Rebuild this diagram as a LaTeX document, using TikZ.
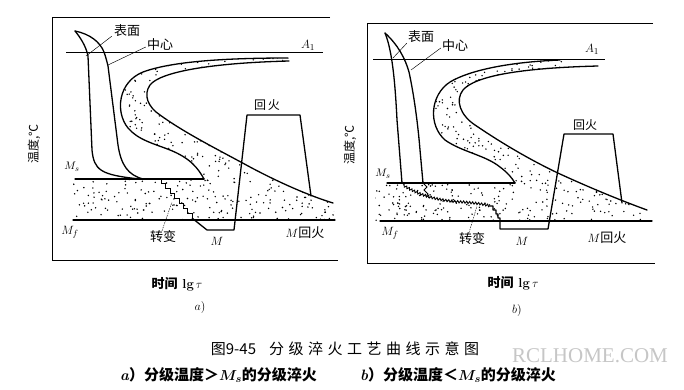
\documentclass[tikz,border=0pt]{standalone}
\usepackage{fontspec}
\newfontfamily\cjk{Noto Sans CJK SC}
\newfontfamily\wmfont{Liberation Serif}
\usetikzlibrary{decorations.pathmorphing}
\newcommand\myfs[1]{\fontsize{#1}{#1}\selectfont}
\begin{document}
\begin{tikzpicture}[x=1pt,y=-1pt,
  curve/.style={line width=1.3pt,line join=round,line cap=round},
  framel/.style={line width=1pt},
  thinl/.style={line width=0.5pt},
  leader/.style={line width=0.45pt},
  dleader/.style={line width=0.45pt,dash pattern=on 1.5pt off 1pt},
  lbl/.style={inner sep=0pt,font=\cjk\myfs{13}},
  mlbl/.style={inner sep=0pt,font=\myfs{13}},
  zig/.style={line width=0.9pt,decorate,decoration={zigzag,segment length=3pt,amplitude=1.1pt}}]
\useasboundingbox (0,0) rectangle (684,389);
\fill[white] (0,0) rectangle (684,389);

% ================= panel a =================
% stipple
\begin{scope}
\clip (288,58) .. controls (220,58) and (170,62) .. (143,72) .. controls (118,82) and (115,112) .. (128,128) .. controls (138,140) and (155,144) .. (170,150) .. controls (190,158) and (198,168) .. (204,179) -- (73,179) -- (73,220) -- (335,220) -- (333,203) .. controls (310,196) and (280,183) .. (250,167) .. controls (215,148) and (185,133) .. (160,115) .. controls (148,107) and (143,95) .. (150,85) .. controls (160,72) and (210,63) .. (289,61) -- cycle;
\pgfmathsetseed{11}
\foreach \i in {1,...,1000}{\fill ({65+275*rnd},{55+168*rnd}) circle (0.8pt);}
\end{scope}
% frame
\draw[framel] (330,17) -- (52,17) -- (52,260) -- (338,260);
% A1
\draw[thinl] (66,52) -- (323,52);
\node[mlbl] (A1a) at (308,45) {$A_1$};
% surface and centre
\draw[curve] (75,31) .. controls (80,37) and (86,46) .. (88,56) -- (92,150) .. controls (94,170) and (100,175) .. (140,179);
\draw[curve] (75,31) .. controls (90,34) and (100,42) .. (104,52) .. controls (106,58) .. (108,66) -- (118,145) .. controls (121,165) and (128,175) .. (143,179);
% C curves
\draw[curve] (288,58) .. controls (220,58) and (170,62) .. (143,72) .. controls (118,82) and (115,112) .. (128,128) .. controls (138,140) and (155,144) .. (170,150) .. controls (190,158) and (198,168) .. (204,179);
\draw[curve] (289,61) .. controls (210,63) and (160,72) .. (150,85) .. controls (143,95) and (148,107) .. (160,115) .. controls (185,133) and (215,148) .. (250,167) .. controls (280,183) and (310,196) .. (333,203);
% Ms, Mf
\draw[curve] (75,179) -- (204,179);
\draw[curve] (73,220) -- (335,220);
% staircase + M + tempering
\draw[line width=1pt,line join=miter] (157,179) \foreach \k in {1,...,8} { -- ++(4.4,0) -- ++(0,4.9) };
\draw[curve] (192.2,218.2) -- (207,230) -- (234,230) -- (247,115) -- (300,115) -- (311,196);
% labels
\node[lbl] (surfA) at (127,31) {表面};
\node[lbl] (cenA) at (160,45) {中心};
\coordinate (surfAp) at (86,56);
\coordinate (cenAp) at (108,65);
\draw[leader] (surfA.south west) ++(-2,-1) coordinate (surfAs) (surfAs) -- (surfAp);
\draw[leader] (cenA.west) ++(-1,2) coordinate (cenAs) (cenAs) -- (cenAp);
\node[lbl,font=\cjk\myfs{12}] (tempA) at (267,105) {回\,火};
\node[mlbl,font=\myfs{11}] (MsA) at (72,167) {$M_s$};
\node[mlbl] (MfA) at (70,232) {$M_f$};
\node[lbl] (trA) at (163,237) {转变};
\coordinate (trAp) at (172,202);
\draw[dleader] (trA.north) ++(-1,0) coordinate (trAs) (trAs) -- (trAp);
\node[mlbl] (MA) at (217,241) {$M$};
\node[lbl] (MtA) at (305,233) {$M$回火};
\node[lbl,rotate=90,font=\cjk\myfs{12}] (yA) at (34,144) {温度,℃};
\node[inner sep=0pt,font=\myfs{13}\bfseries] (xA) at (177,284) {{\cjk 时间} lg\,$\tau$};
\node[inner sep=0pt,font=\myfs{12}] (capA) at (200,307) {$a$)};

% ================= panel b =================
\begin{scope}
\clip (560,60) .. controls (510,62) and (470,70) .. (450,82) .. controls (430,95) and (428,125) .. (445,140) .. controls (462,152) and (485,155) .. (500,167) .. controls (508,173) and (512,178) .. (515,183) -- (375,183) -- (375,221) -- (652,221) -- (647,210) .. controls (625,202) and (595,190) .. (560,174) .. controls (530,160) and (500,142) .. (475,125) .. controls (460,115) and (455,100) .. (463,90) .. controls (475,76) and (520,68) .. (598,66) -- cycle;
\pgfmathsetseed{23}
\foreach \i in {1,...,1000}{\fill ({372+282*rnd},{57+166*rnd}) circle (0.8pt);}
\end{scope}
\draw[framel] (653,23) -- (367,23) -- (367,263) -- (655,263);
\draw[thinl] (373,59) -- (605,59);
\node[mlbl] (A1b) at (592,49) {$A_1$};
\draw[curve] (385,33) .. controls (392,50) and (395,80) .. (397,120) -- (402,183);
\draw[curve] (385,33) .. controls (398,45) and (405,58) .. (409,72) .. controls (414,95) and (418,125) .. (420,150) -- (423,183);
\draw[curve] (560,60) .. controls (510,62) and (470,70) .. (450,82) .. controls (430,95) and (428,125) .. (445,140) .. controls (462,152) and (485,155) .. (500,167) .. controls (508,173) and (512,178) .. (515,183);
\draw[curve] (598,66) .. controls (520,68) and (475,76) .. (463,90) .. controls (455,100) and (460,115) .. (475,125) .. controls (500,142) and (530,160) .. (560,174) .. controls (595,190) and (625,202) .. (647,210);
\draw[curve] (387,183) -- (515,183);
\draw[curve] (380,221) -- (652,221);
% zigzag transformation
\draw[zig] (403,185) .. controls (420,196) and (440,201) .. (463,202) .. controls (475,203) and (484,204) .. (490,206);
\draw[line width=0.9pt] (423,183) -- (427,187) -- (424,190) -- (428,194) -- (426,197);
\draw[curve] (490,206) -- (493,206) -- (493,210) -- (496,210) -- (496,214) -- (498,214) -- (498,218) -- (500,218) -- (500,229) -- (548,229) -- (564,134) -- (613,134) -- (622,203);
% labels
\node[lbl] (surfB) at (421,37) {表面};
\node[lbl] (cenB) at (455,46) {中心};
\coordinate (surfBp) at (393,58);
\coordinate (cenBp) at (411,70);
\draw[leader] (surfB.south west) ++(-1,0) coordinate (surfBs) (surfBs) -- (surfBp);
\draw[leader] (cenB.west) ++(-1,2) coordinate (cenBs) (cenBs) -- (cenBp);
\node[lbl,font=\cjk\myfs{12}] (tempB) at (585,125) {回火};
\node[mlbl,font=\myfs{11}] (MsB) at (383,174) {$M_s$};
\node[mlbl] (MfB) at (390,233) {$M_f$};
\node[lbl] (trB) at (472,239) {转变};
\coordinate (trBp) at (477,206);
\draw[dleader] (trB.north) ++(-3,0) coordinate (trBs) (trBs) -- (trBp);
\node[mlbl] (MB) at (522,241) {$M$};
\node[lbl] (MtB) at (607,238) {$M$回火};
\node[lbl,rotate=90,font=\cjk\myfs{12}] (yB) at (350,145) {温度,℃};
\node[inner sep=0pt,font=\myfs{13}\bfseries] (xB) at (513,283) {{\cjk 时间} lg\,$\tau$};
\node[inner sep=0pt,font=\myfs{12}] (capB) at (517,310) {$b$)};

% ================= captions =================
\node[inner sep=0pt,font=\cjk\myfs{15}] (title) at (345,349) {图9-45\hspace{13pt}分\hspace{4.5pt}级\hspace{4.5pt}淬\hspace{4.5pt}火\hspace{4.5pt}工\hspace{4.5pt}艺\hspace{4.5pt}曲\hspace{4.5pt}线\hspace{4.5pt}示\hspace{4.5pt}意\hspace{4.5pt}图};
\node[inner sep=0pt,font=\wmfont\myfs{21},text=gray!45] (wm) at (590,356) {RCLHOME.COM};
\node[inner sep=0pt,anchor=west,font=\cjk\bfseries\myfs{15}] (subA) at (120,375) {{\rmfamily\itshape a}）分级温度＞{\boldmath$M_s$}的分级淬火};
\node[inner sep=0pt,anchor=west,font=\cjk\bfseries\myfs{15}] (subB) at (360,375) {{\rmfamily\itshape b}）分级温度＜{\boldmath$M_s$}的分级淬火};
\end{tikzpicture}
\end{document}
